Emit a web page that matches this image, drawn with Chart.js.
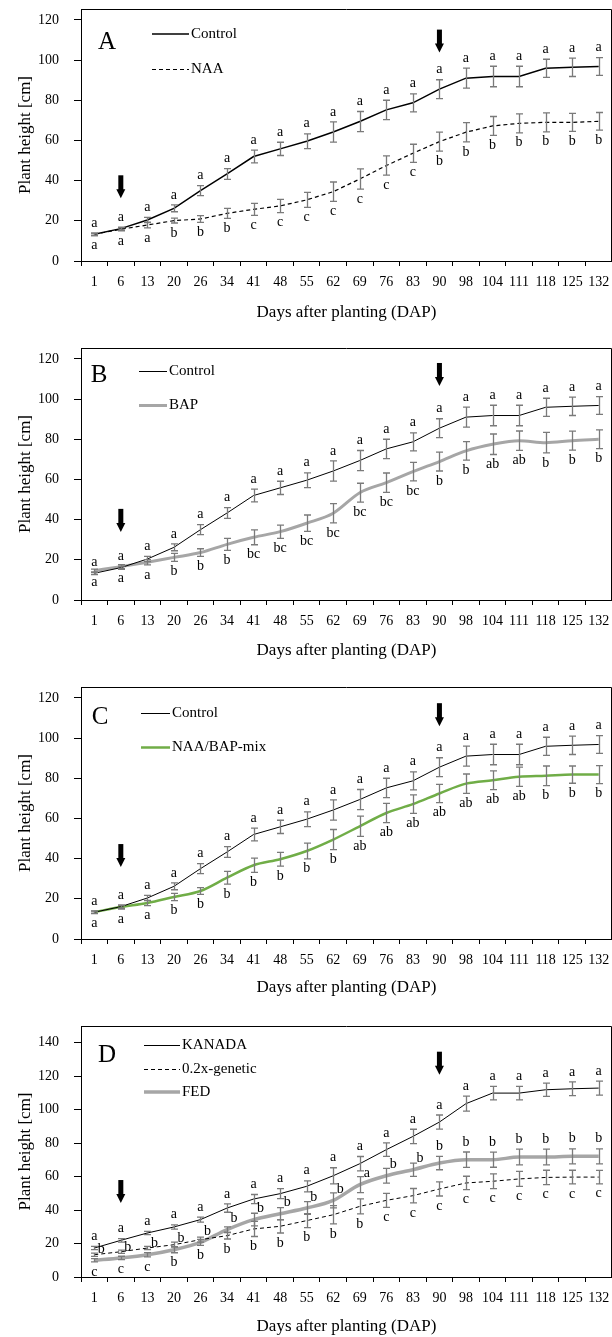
<!DOCTYPE html>
<html><head><meta charset="utf-8">
<script src="https://cdn.jsdelivr.net/npm/chart.js@4.4.1/dist/chart.umd.min.js"></script>
<style>
html,body{margin:0;padding:0;background:#fff;}
body{width:612px;height:1337px;position:relative;overflow:hidden;}
.p{position:absolute;left:0;width:612px;}
canvas{display:block;}
</style></head>
<body>
<div class="p" style="top:0px"><canvas id="cA" width="612" height="330"></canvas></div>
<div class="p" style="top:339px"><canvas id="cB" width="612" height="330"></canvas></div>
<div class="p" style="top:678px"><canvas id="cC" width="612" height="330"></canvas></div>
<div class="p" style="top:1017px"><canvas id="cD" width="612" height="320"></canvas></div>
<script>
const DAP = ['1','6','13','20','26','34','41','48','55','62','69','76','83','90','98','104','111','118','125','132'];

const control    = [13.3,16.1,20.4,26.2,35.0,43.3,52.0,55.8,59.6,64.2,69.4,75.2,78.7,85.5,91.0,91.8,91.8,95.9,96.4,96.8];
const controlErr = [0.6,0.8,1.3,1.7,2.5,2.7,3.2,3.3,3.7,5.0,5.0,4.8,4.5,4.7,5.0,5.1,5.1,4.5,4.6,4.4];
const naa        = [13.3,15.8,17.9,20.1,20.9,23.7,25.7,27.4,30.4,34.5,40.8,47.5,53.6,59.4,64.1,67.2,68.5,69.0,69.0,69.5];
const naaErr     = [0.6,0.8,1.4,1.2,1.7,2.5,3.0,3.3,3.7,4.8,5.0,4.8,4.5,4.7,4.8,4.7,4.7,4.7,4.5,4.4];
const bap        = [14.6,16.6,18.8,21.2,23.6,27.7,31.2,34.0,38.2,43.2,53.4,58.4,63.9,68.9,74.2,77.5,79.3,78.3,79.3,80.0];
const bapErr     = [0.8,1.0,1.3,2.0,1.9,3.0,3.7,3.3,4.1,4.8,4.7,4.8,4.6,4.7,4.6,5.1,4.8,5.1,4.7,4.7];
const mix        = [13.4,15.9,17.9,20.9,23.9,30.5,36.7,39.7,43.8,49.5,56.1,62.7,67.1,72.4,77.3,79.0,80.7,81.2,81.8,81.8];
const mixErr     = [0.6,1.0,1.3,1.8,1.7,3.2,3.5,3.4,3.9,5.0,5.0,4.8,4.6,4.5,4.8,4.7,4.8,4.9,4.3,4.5];
const kanada     = [17.3,21.9,26.3,29.9,34.3,41.2,46.6,49.8,54.2,60.5,67.7,76.1,84.0,92.6,103.6,109.9,109.9,111.9,112.5,112.9];
const kanadaErr  = [1.0,1.0,1.0,1.3,1.5,2.5,2.7,3.0,3.3,4.8,4.3,4.0,4.3,4.2,4.5,4.0,4.0,4.0,4.1,4.2];
const genetic    = [13.3,15.1,17.3,19.3,22.3,24.7,28.7,30.3,33.7,37.2,42.2,45.8,48.6,52.6,56.2,57.2,58.6,59.5,59.7,59.7];
const geneticErr = [1.0,1.0,1.0,1.5,1.5,2.0,4.5,4.0,4.2,5.5,4.5,4.2,4.3,4.2,4.0,4.4,4.5,4.3,4.1,4.0];
const fed        = [10.0,11.4,13.3,16.3,20.7,28.3,34.3,37.8,41.2,45.8,55.2,60.5,64.1,68.1,70.1,70.1,71.7,71.7,72.1,72.1];
const fedErr     = [1.0,1.0,1.3,1.8,1.8,1.7,3.8,3.6,3.8,4.5,4.8,4.4,4.0,4.0,4.6,4.5,4.7,4.7,4.5,4.5];

const lettersControl = ['a','a','a','a','a','a','a','a','a','a','a','a','a','a','a','a','a','a','a','a'];
const lettersNAA     = ['a','a','a','b','b','b','c','c','c','c','c','c','c','b','b','b','b','b','b','b'];
const lettersBAP     = ['a','a','a','b','b','b','bc','bc','bc','bc','bc','bc','bc','b','b','ab','ab','b','b','b'];
const lettersMix     = ['a','a','a','b','b','b','b','b','b','b','ab','ab','ab','ab','ab','ab','ab','b','b','b'];
const lettersKanada  = ['a','a','a','a','a','a','a','a','a','a','a','a','a','a','a','a','a','a','a','a'];
const lettersFED     = ['b','b','b','b','b','b','b','b','b','b','a','b','b','b','b','b','b','b','b','b'];
const lettersLow     = ['c','c','c','b','b','b','b','b','b','b','b','c','c','c','c','c','c','c','c','c'];

const arrowDays = ['6','90'];
const arrowTipsA = [31.2,103.7];
const arrowTipsB = [33.9,106.5];
const arrowTipsC = [35.8,105.9];
const arrowTipsD = [44.2,120.9];

const F = "'Liberation Serif','Times New Roman',serif";

const annot = {
  id:'annot',
  afterDatasetsDraw(chart, args, o){
    const ctx = chart.ctx, xs = chart.scales.x, ys = chart.scales.y, ca = chart.chartArea;
    ctx.save();
    // frame
    ctx.strokeStyle = '#000'; ctx.lineWidth = 1;
    ctx.beginPath();
    ctx.moveTo(ca.left+0.5, ca.bottom); ctx.lineTo(ca.left+0.5, ca.top+0.5);
    ctx.lineTo(ca.right-0.5, ca.top+0.5); ctx.lineTo(ca.right-0.5, ca.bottom);
    ctx.stroke();
    // error bars
    chart.data.datasets.forEach(ds=>{
      if(!ds.err) return;
      ctx.strokeStyle = '#7a7a7a'; ctx.lineWidth = 1.3;
      ds.data.forEach((v,i)=>{
        const px = Math.round(xs.getPixelForValue(i))+0.5;
        const t = ys.getPixelForValue(v+ds.err[i]), b = ys.getPixelForValue(v-ds.err[i]);
        ctx.beginPath();
        ctx.moveTo(px,t); ctx.lineTo(px,b);
        ctx.moveTo(px-3.5,t); ctx.lineTo(px+3.5,t);
        ctx.moveTo(px-3.5,b); ctx.lineTo(px+3.5,b);
        ctx.stroke();
      });
    });
    // letters
    ctx.fillStyle = '#000';
    ctx.font = '14px ' + F;
    ctx.textAlign = 'center'; ctx.textBaseline = 'middle';
    (o.letters||[]).forEach(row=>{
      row.text.forEach((tx,i)=>{
        const dss = row.ds.map(k=>chart.data.datasets[k]);
        let px = xs.getPixelForValue(i), py;
        if(row.shiftUntil && i < row.shiftUntil){
          const v = Math.max(...dss.map(d=>d.data[i]));
          px += 7; py = ys.getPixelForValue(v) - 11;
        } else if(row.side==='above'){
          const v = Math.max(...dss.map(d=>d.data[i]+d.err[i]));
          py = ys.getPixelForValue(v) - 10;
        } else {
          const v = Math.min(...dss.map(d=>d.data[i]-d.err[i]));
          py = ys.getPixelForValue(v) + 10;
        }
        ctx.fillText(tx, px, py);
      });
    });
    // arrows
    if(o.arrows){
      o.arrows.days.forEach((d,k)=>{
        const px = xs.getPixelForValue(DAP.indexOf(d));
        const tip = ys.getPixelForValue(o.arrows.tips[k]);
        const len = 23;
        ctx.fillStyle = '#000';
        ctx.fillRect(px-2.5, tip-len, 5, len-8);
        ctx.beginPath();
        ctx.moveTo(px-4.5, tip-9); ctx.lineTo(px+4.5, tip-9); ctx.lineTo(px, tip); ctx.closePath();
        ctx.fill();
      });
    }
    // legend
    if(o.legend){
      const L = o.legend;
      chart.data.datasets.forEach((ds,k)=>{
        let y = Math.round(ca.top + L.y[k]);
        const ly = (Math.round(ds.borderWidth) % 2 === 1) ? y + 0.5 : y;
        const x0 = ca.left + L.x;
        ctx.strokeStyle = ds.borderColor; ctx.lineWidth = ds.borderWidth;
        ctx.setLineDash(ds.borderDash||[]);
        ctx.beginPath(); ctx.moveTo(x0, ly); ctx.lineTo(x0+L.len, ly); ctx.stroke();
        ctx.setLineDash([]);
        ctx.fillStyle = '#000'; ctx.font = '15px ' + F;
        ctx.textAlign = 'left'; ctx.textBaseline = 'middle';
        ctx.fillText(ds.label, x0+L.len+2, y);
      });
    }
    // panel tag
    if(o.tag){
      ctx.fillStyle = '#000'; ctx.font = '25px ' + F;
      ctx.textAlign = 'center'; ctx.textBaseline = 'middle';
      ctx.fillText(o.tag.text, ca.left+o.tag.x, ca.top+o.tag.y);
    }
    ctx.restore();
  }
};

function makeChart(id, H, datasets, yMax, annotOpts, titlePadBottom, axisBottom){
  return new Chart(document.getElementById(id), {
    type:'line',
    data:{labels:DAP, datasets},
    options:{
      responsive:false, animation:false, devicePixelRatio:1,
      layout:{padding:{top:9,right:0,bottom:0,left:0}},
      elements:{point:{radius:0,hoverRadius:0}, line:{fill:false}},
      plugins:{legend:{display:false}, tooltip:{enabled:false}, annot:annotOpts},
      scales:{
        x:{
          type:'category', offset:true,
          grid:{display:true, offset:true, drawOnChartArea:false, drawTicks:true, tickLength:5, color:'#000', lineWidth:1},
          border:{display:true, color:'#000', width:1},
          ticks:{autoSkip:false, maxRotation:0, minRotation:0, padding:8, color:'#000', font:{family:F, size:14}},
          title:{display:true, text:'Days after planting (DAP)', color:'#000', font:{family:F, size:17}, padding:{top:0, bottom:titlePadBottom}},
          afterFit(s){ s.height = H - axisBottom; s.paddingLeft = 0; s.paddingRight = 0; }
        },
        y:{
          min:0, max:yMax,
          grid:{display:true, drawOnChartArea:false, drawTicks:true, tickLength:7, color:'#000', lineWidth:1},
          border:{display:true, color:'#000', width:1},
          ticks:{stepSize:20, includeBounds:false, padding:15, color:'#000', font:{family:F, size:14}},
          title:{display:true, text:'Plant height [cm]', color:'#000', font:{family:F, size:17}, padding:{top:15, bottom:0}},
          afterFit(s){ s.width = 81; s.paddingTop = 0; s.paddingBottom = 0; }
        }
      }
    },
    plugins:[annot]
  });
}

const dsControl = (w)=>({label:'Control', data:control, err:controlErr, borderColor:'#000', borderWidth:w, tension:0});

makeChart('cA', 330, [
  dsControl(1.5),
  {label:'NAA', data:naa, err:naaErr, borderColor:'#000', borderWidth:1.2, borderDash:[4,3], tension:0}
], 125.4, {
  letters:[{ds:[0], side:'above', text:lettersControl},{ds:[1], side:'below', text:lettersNAA}],
  arrows:{days:arrowDays, tips:arrowTipsA},
  legend:{x:71, y:[25,60], len:37},
  tag:{text:'A', x:26, y:33}
}, 7, 261);

makeChart('cB', 330, [
  dsControl(1),
  {label:'BAP', data:bap, err:bapErr, borderColor:'#a6a6a6', borderWidth:3, cubicInterpolationMode:'monotone'}
], 125.4, {
  letters:[{ds:[0], side:'above', text:lettersControl},{ds:[1], side:'below', text:lettersBAP}],
  arrows:{days:arrowDays, tips:arrowTipsB},
  legend:{x:58, y:[23,57], len:28},
  tag:{text:'B', x:18, y:27}
}, 8, 261);

makeChart('cC', 330, [
  dsControl(1),
  {label:'NAA/BAP-mix', data:mix, err:mixErr, borderColor:'#70ad47', borderWidth:2.5, cubicInterpolationMode:'monotone'}
], 125.4, {
  letters:[{ds:[0], side:'above', text:lettersControl},{ds:[1], side:'below', text:lettersMix}],
  arrows:{days:arrowDays, tips:arrowTipsC},
  legend:{x:60, y:[26,60], len:29},
  tag:{text:'C', x:19, y:30}
}, 10, 261);

makeChart('cD', 320, [
  {label:'KANADA', data:kanada, err:kanadaErr, borderColor:'#000', borderWidth:1, tension:0},
  {label:'0.2x-genetic', data:genetic, err:geneticErr, borderColor:'#000', borderWidth:1, borderDash:[4,3], tension:0},
  {label:'FED', data:fed, err:fedErr, borderColor:'#a6a6a6', borderWidth:3.5, cubicInterpolationMode:'monotone'}
], 150, {
  letters:[
    {ds:[0], side:'above', text:lettersKanada},
    {ds:[2], side:'above', text:lettersFED, shiftUntil:13},
    {ds:[1,2], side:'below', text:lettersLow}
  ],
  arrows:{days:arrowDays, tips:arrowTipsD},
  legend:{x:63, y:[19,43,66], len:36},
  tag:{text:'D', x:26, y:29}
}, 0, 260);
</script>
</body></html>
